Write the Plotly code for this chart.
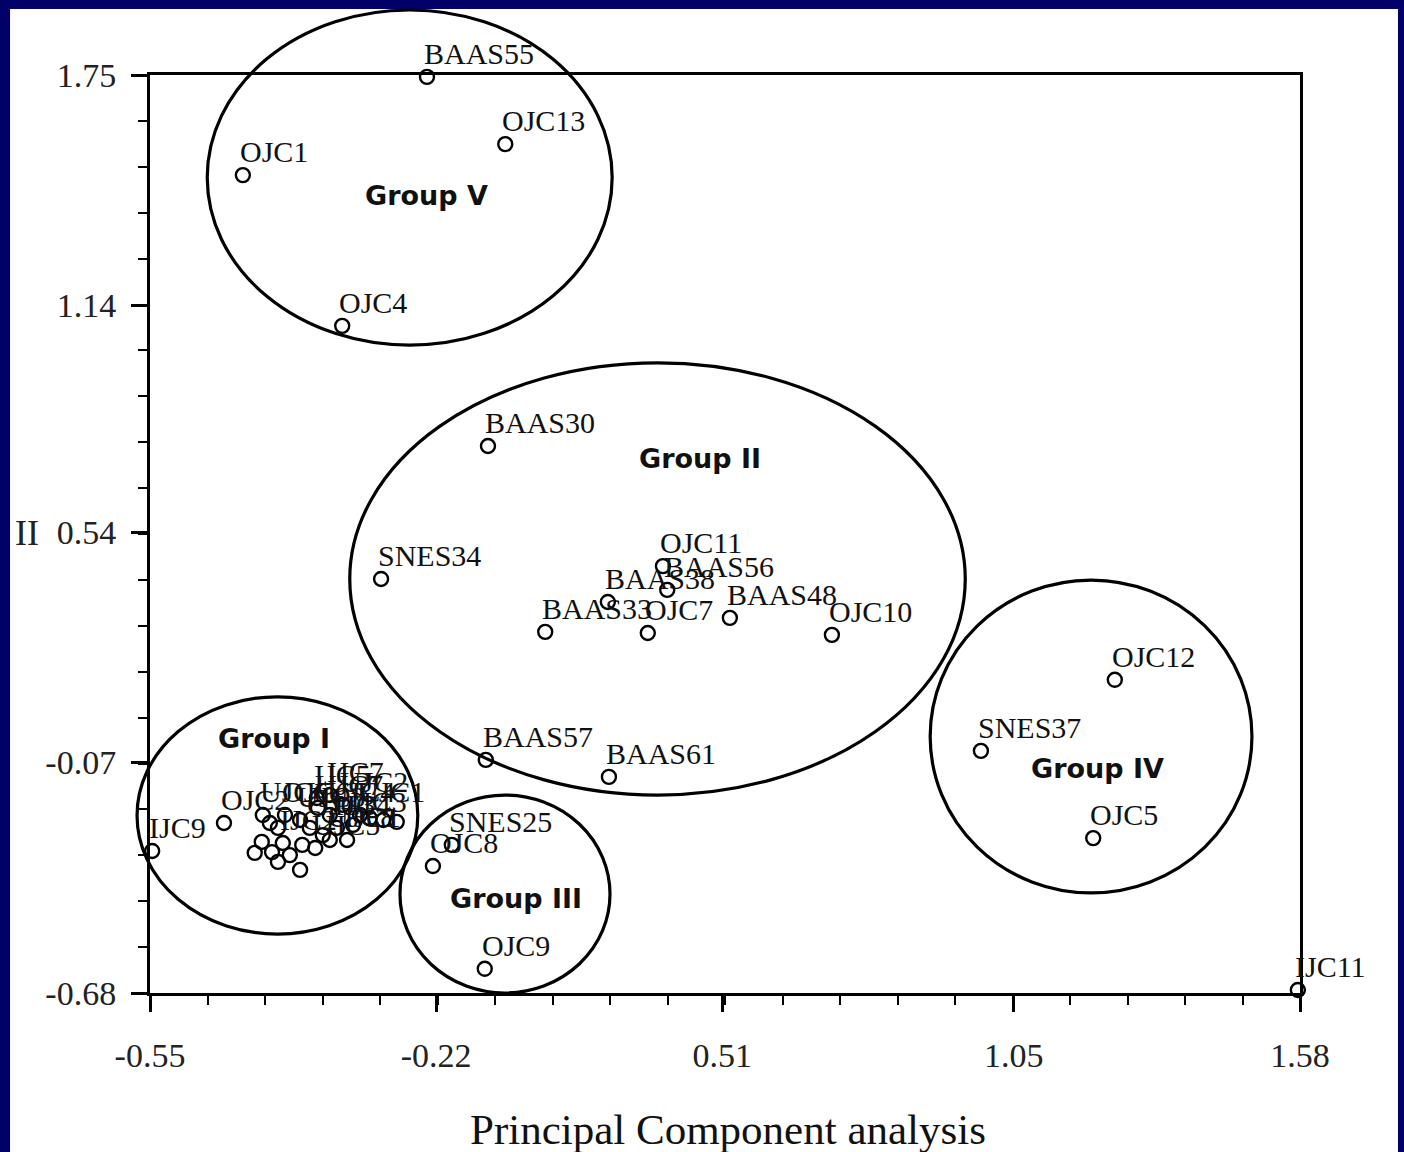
import plotly.graph_objects as go

# ---------------- data ----------------
X_RANGE = [-0.55, 1.58]
Y_RANGE = [-0.68, 1.75]

x_tickvals = [-0.55, -0.02, 0.51, 1.05, 1.58]
x_ticktext = ["-0.55", "-0.22", "0.51", "1.05", "1.58"]
y_tickvals = [1.75, 1.14, 0.54, -0.07, -0.68]
y_ticktext = ["1.75", "1.14", "0.54", "-0.07", "-0.68"]

# labelled accessions (PC1, PC2)
acc_labels = ["BAAS55", "OJC13", "OJC1", "OJC4", "BAAS30", "SNES34", "OJC11", "BAAS56",
              "BAAS38", "BAAS33", "OJC7", "BAAS48", "OJC10", "OJC12", "SNES37", "OJC5",
              "IJC11", "BAAS57", "BAAS61", "SNES25", "OJC8", "OJC9", "IJC9", "OJC2"]
acc_pc1 = [-0.037, 0.108, -0.378, -0.194, 0.076, -0.122, 0.400, 0.408,
           0.298, 0.182, 0.372, 0.524, 0.713, 1.237, 0.989, 1.197,
           1.576, 0.072, 0.300, 0.009, -0.026, 0.070, -0.546, -0.413]
acc_pc2 = [1.745, 1.567, 1.485, 1.086, 0.768, 0.416, 0.450, 0.387,
           0.355, 0.276, 0.273, 0.313, 0.268, 0.149, -0.039, -0.270,
           -0.672, -0.063, -0.108, -0.288, -0.344, -0.616, -0.304, -0.230]

# dense Group I cluster
clu_labels = ["", "", "", "", "IJC2", "", "", "", "", "UJC5", "UJC8", "IJC1",
              "UJC3", "UJC7", "OJC6", "UJC4", "UJC2", "UJC1", "OJC3", "", "UJC6",
              "IJC4", "IJC3", "", "", "", "", "IJC5", "IJC7"]
clu_pc1 = [-0.313, -0.343, -0.356, -0.324, -0.304, -0.268, -0.291, -0.313, -0.272, -0.244,
           -0.217, -0.185, -0.272, -0.239, -0.300, -0.217, -0.193, -0.161, -0.254, -0.328,
           -0.341, -0.204, -0.174, -0.143, -0.118, -0.093, -0.230, -0.241, -0.217]
clu_pc2 = [-0.243, -0.280, -0.309, -0.307, -0.283, -0.288, -0.315, -0.333, -0.354, -0.296,
           -0.275, -0.275, -0.222, -0.190, -0.209, -0.209, -0.182, -0.209, -0.243, -0.230,
           -0.209, -0.243, -0.235, -0.217, -0.222, -0.227, -0.262, -0.164, -0.156]

# group ellipses (data extents) and label positions
group_names = ["Group I", "Group II", "Group III", "Group IV", "Group V"]
group_x0 = [-0.574, -0.180, -0.087, 0.895, -0.444]
group_x1 = [-0.054, 0.960, 0.302, 1.491, 0.306]
group_y0 = [-0.524, -0.156, -0.680, -0.415, 1.035]
group_y1 = [0.104, 0.988, -0.156, 0.413, 1.922]
group_lx = [-0.320, 0.469, 0.128, 1.204, -0.037]
group_ly = [-0.005, 0.734, -0.431, -0.087, 1.432]

# ---------------- figure ----------------
SERIF = "Liberation Serif, Times New Roman, serif"
SANS = "DejaVu Sans, Verdana, sans-serif"

fig = go.Figure()

all_labels = clu_labels + acc_labels
all_pc1 = clu_pc1 + acc_pc1
all_pc2 = clu_pc2 + acc_pc2

fig.add_trace(go.Scatter(
    x=all_pc1, y=all_pc2, mode="markers", text=all_labels,
    marker=dict(symbol="circle-open", size=14, color="black", line=dict(width=2.4, color="black")),
    cliponaxis=False, hoverinfo="text",
))


def px_x(v):
    return (v - X_RANGE[0]) / (X_RANGE[1] - X_RANGE[0])


def px_y(v):
    return (v - Y_RANGE[0]) / (Y_RANGE[1] - Y_RANGE[0])


shapes = []
# white panel behind everything (navy border comes from paper background)
shapes.append(dict(type="rect", xref="paper", yref="paper", x0=-0.1217, x1=1.0852,
                   y0=-0.25, y1=1.0719, fillcolor="white", line=dict(width=0), layer="below"))
for i in range(len(group_names)):
    shapes.append(dict(type="circle", xref="paper", yref="paper",
                       x0=px_x(group_x0[i]), x1=px_x(group_x1[i]),
                       y0=px_y(group_y0[i]), y1=px_y(group_y1[i]),
                       line=dict(color="black", width=3.2), layer="above"))

annotations = []
# point labels, placed up-right of each marker
for lab, xv, yv in zip(all_labels, all_pc1, all_pc2):
    if not lab:
        continue
    annotations.append(dict(x=xv, y=yv, xref="x", yref="y", text=lab, showarrow=False,
                            xanchor="left", yanchor="bottom", xshift=-5, yshift=5,
                            font=dict(family=SERIF, size=30, color="#111")))
for i, name in enumerate(group_names):
    annotations.append(dict(x=group_lx[i], y=group_ly[i], xref="x", yref="y", text="<b>" + name + "</b>",
                            showarrow=False, font=dict(family=SANS, size=27, color="#111"),
                            xanchor="center", yanchor="middle"))
annotations.append(dict(x=-0.107, y=0.501, xref="paper", yref="paper", text="II", showarrow=False,
                        font=dict(family=SERIF, size=36, color="#222"), xanchor="center", yanchor="middle"))
annotations.append(dict(x=0.503, y=-0.149, xref="paper", yref="paper", text="Principal Component analysis",
                        showarrow=False, font=dict(family=SERIF, size=43, color="#111"),
                        xanchor="center", yanchor="middle"))

axis_common = dict(
    tickmode="array", ticks="outside", ticklen=16, tickwidth=3, tickcolor="black",
    showline=True, linewidth=3, linecolor="black", mirror=True,
    showgrid=False, zeroline=False,
    tickfont=dict(family=SERIF, size=34, color="#222"),
)

fig.update_layout(
    width=1404, height=1152,
    margin=dict(l=150, r=104, t=75, b=159, autoexpand=False),
    paper_bgcolor="#000068", plot_bgcolor="white",
    showlegend=False,
    shapes=shapes, annotations=annotations,
    xaxis=dict(range=X_RANGE, tickvals=x_tickvals, ticktext=x_ticktext, ticklabelstandoff=14,
               minor=dict(tickmode="linear", tick0=X_RANGE[0], dtick=(X_RANGE[1] - X_RANGE[0]) / 20,
                          ticks="outside", ticklen=9, tickwidth=2, tickcolor="black", showgrid=False),
               **axis_common),
    yaxis=dict(range=Y_RANGE, tickvals=y_tickvals, ticktext=y_ticktext, ticklabelstandoff=8,
               minor=dict(tickmode="linear", tick0=Y_RANGE[0], dtick=(Y_RANGE[1] - Y_RANGE[0]) / 20,
                          ticks="outside", ticklen=9, tickwidth=2, tickcolor="black", showgrid=False),
               **axis_common),
)

fig.write_html("out.html")
